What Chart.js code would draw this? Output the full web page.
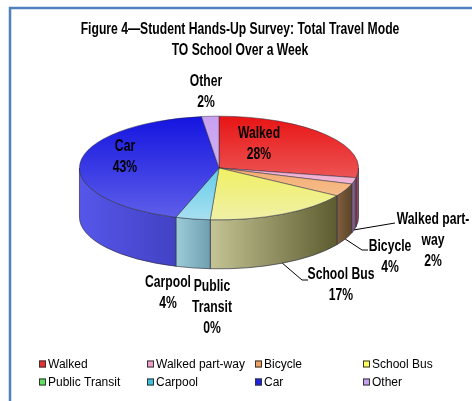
<!DOCTYPE html>
<html>
<head>
<meta charset="utf-8">
<script src="https://cdn.jsdelivr.net/npm/chart.js@4.4.1/dist/chart.umd.min.js"></script>
<style>
  html, body { margin: 0; padding: 0; background: #fff; }
  #wrap { width: 472px; height: 401px; }
</style>
</head>
<body>
<div id="wrap"><canvas id="travelChart" width="472" height="401"></canvas></div>
<script>
const modes = ['Walked', 'Walked part-way', 'Bicycle', 'School Bus', 'Public Transit', 'Carpool', 'Car', 'Other'];
const shares = [28, 2, 4, 17, 0, 4, 43, 2];
const titleLines = ['Figure 4\u2014Student Hands-Up Survey: Total Travel Mode', 'TO School Over a Week'];

const topColors  = ['#e81414', '#ee9cc8', '#f09040', '#f0f020', '#40d040', '#20b8e0', '#1414e0', '#c8a0f0'];
const topLight   = ['#f08080', '#f4c2dc', '#f8caa2', '#f0f0a8', '#a0f0a0', '#a8e0f0', '#6060ea', '#d8c2f4'];
const sideLight  = ['#b05060', '#907090', '#806040', '#c4c494', '#60a060', '#9cccd8', '#5656ea', '#a080c0'];
const sideDark   = ['#8a3848', '#6a4a6a', '#5e4428', '#5c5c30', '#408040', '#70a0b0', '#4242c4', '#806090'];
const legendColors = ['#e83030', '#f0a0c8', '#f0a060', '#ffff60', '#60e060', '#40c0e0', '#2020e0', '#c8a0f0'];

const SQUASH = 52 / 140;   // tilt of the pie
const DEPTH = 49;          // thickness of the side wall
const BOLD = 'bold 16px "Liberation Sans", Arial, sans-serif';
const NARROW = 0.76;       // no Arial Narrow here, so squeeze Arial

// label spots as placed in the original (text centre x, first line y)
const labelSpots = [
  { x: 259, y: 134 },
  { x: 433, y: 220, lines: ['Walked part-', 'way'], leader: [[395, 223]] },
  { x: 390, y: 247, leader: [[362, 250], [368, 250]] },
  { x: 341, y: 275, leader: [[302, 280], [308, 280]] },
  { x: 212, y: 287, lines: ['Public', 'Transit'] },
  { x: 168, y: 283 },
  { x: 125, y: 147 },
  { x: 206, y: 82 }
];

function narrowText(ctx, t, x, y) {
  ctx.save();
  ctx.translate(x, y);
  ctx.scale(NARROW, 1);
  ctx.fillText(t, 0, 0);
  ctx.restore();
}

const pie3d = {
  id: 'pie3d',
  beforeDatasetsDraw(chart) {
    const ctx = chart.ctx;
    const arcs = chart.getDatasetMeta(0).data;
    // side walls, front half only
    arcs.forEach((arc, i) => {
      const { x, y, startAngle, endAngle, outerRadius: r } = arc;
      const a1 = Math.max(startAngle, 0), a2 = Math.min(endAngle, Math.PI);
      if (a2 <= a1) return;
      const ry = r * SQUASH;
      const x0 = x + r * Math.cos(a2), x1 = x + r * Math.cos(a1);
      const g = ctx.createLinearGradient(x0, 0, x1, 0);
      g.addColorStop(0, sideLight[i]);
      g.addColorStop(1, sideDark[i]);
      ctx.save();
      ctx.beginPath();
      ctx.ellipse(x, y, r, ry, 0, a1, a2);
      ctx.lineTo(x0, y + ry * Math.sin(a2) + DEPTH);
      ctx.ellipse(x, y + DEPTH, r, ry, 0, a2, a1, true);
      ctx.closePath();
      ctx.fillStyle = g;
      ctx.fill();
      ctx.lineWidth = 0.8;
      ctx.strokeStyle = 'rgba(40,40,60,0.8)';
      ctx.stroke();
      ctx.restore();
    });
    const a = arcs[0];
    ctx.save();
    ctx.translate(a.x, a.y);
    ctx.scale(1, SQUASH);
    ctx.translate(-a.x, -a.y);
  },
  afterDatasetsDraw(chart) {
    const ctx = chart.ctx;
    ctx.restore();
    const arcs = chart.getDatasetMeta(0).data;
    ctx.save();
    ctx.font = BOLD;
    ctx.textAlign = 'center';
    ctx.textBaseline = 'middle';
    ctx.fillStyle = '#000';
    ctx.strokeStyle = '#000';
    ctx.lineWidth = 1;
    arcs.forEach((arc, i) => {
      const spot = labelSpots[i];
      const lines = (spot.lines || [modes[i]]).concat([shares[i] + '%']);
      lines.forEach((t, k) => narrowText(ctx, t, spot.x, spot.y + k * 21));
      if (spot.leader) {
        const m = (arc.startAngle + arc.endAngle) / 2;
        const r = arc.outerRadius;
        ctx.beginPath();
        ctx.moveTo(arc.x + r * Math.cos(m), arc.y + r * SQUASH * Math.sin(m) + DEPTH);
        spot.leader.forEach(p => ctx.lineTo(p[0], p[1]));
        ctx.stroke();
      }
    });
    ctx.restore();
  },
  afterDraw(chart) {
    const ctx = chart.ctx;
    ctx.save();
    // frame
    ctx.strokeStyle = '#4f81bd';
    ctx.lineWidth = 2.5;
    ctx.beginPath();
    ctx.moveTo(10, 402);
    ctx.lineTo(10, 8);
    ctx.lineTo(473, 8);
    ctx.stroke();
    // title
    ctx.fillStyle = '#000';
    ctx.font = BOLD;
    ctx.textAlign = 'center';
    ctx.textBaseline = 'middle';
    titleLines.forEach((t, k) => narrowText(ctx, t, 240, 30 + k * 21));
    // legend, 4 columns
    ctx.font = '12px "Liberation Sans", Arial, sans-serif';
    ctx.textAlign = 'left';
    modes.forEach((m, i) => {
      const bx = 39 + (i % 4) * 108, by = 364 + Math.floor(i / 4) * 18;
      ctx.fillStyle = legendColors[i];
      ctx.fillRect(bx, by - 3.5, 7, 7);
      ctx.strokeStyle = '#333';
      ctx.lineWidth = 1;
      ctx.strokeRect(bx + 0.5, by - 3, 6, 6);
      ctx.fillStyle = '#000';
      ctx.fillText(m, bx + 9, by + 0.5);
    });
    ctx.restore();
  }
};

new Chart(document.getElementById('travelChart'), {
  type: 'pie',
  data: {
    labels: modes,
    datasets: [{
      data: shares,
      clip: false,
      borderWidth: 0.9,
      borderColor: 'rgba(40,40,60,0.8)',
      backgroundColor: (c) => {
        const area = c.chart.chartArea;
        if (!area) return topColors[c.dataIndex];
        const cy = (area.top + area.bottom) / 2;
        const r = Math.min(area.width, area.height) / 2;
        const g = c.chart.ctx.createLinearGradient(0, cy - r, 0, cy + r);
        g.addColorStop(0, topColors[c.dataIndex]);
        g.addColorStop(1, topLight[c.dataIndex]);
        return g;
      }
    }]
  },
  options: {
    responsive: false,
    animation: false,
    events: [],
    devicePixelRatio: 1,
    layout: { padding: { left: 79, right: 113, top: 28, bottom: 93 } },
    plugins: {
      legend: { display: false },
      tooltip: { enabled: false },
      title: { display: false }
    }
  },
  plugins: [pie3d]
});
</script>
</body>
</html>
